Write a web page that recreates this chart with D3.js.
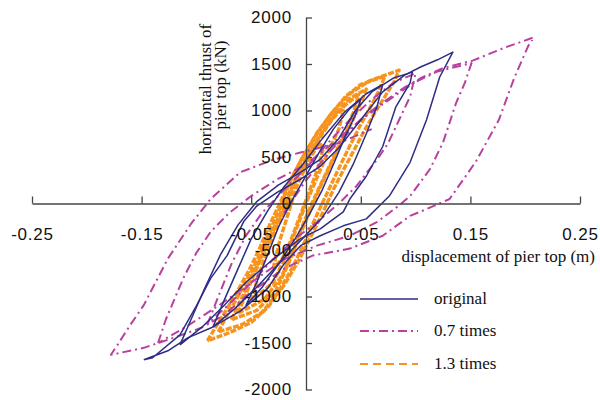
<!DOCTYPE html>
<html><head><meta charset="utf-8">
<script src="https://cdn.jsdelivr.net/npm/d3@7"></script>
<style>body{margin:0;background:#fff}svg{display:block}</style>
</head><body>
<svg id="c" width="600" height="400"></svg>
<script>
// ---- data: displacement (m), horizontal thrust (kN) ----
const xTicks = [-0.25, -0.15, -0.05, 0.05, 0.15, 0.25];
const yTicks = [-2000, -1500, -1000, -500, 0, 500, 1000, 1500, 2000];
const seriesNames = ["original", "0.7 times", "1.3 times"];

const originalLoop1 = [[-0.055,-1100],[-0.045,-850],[-0.035,-550],[-0.025,-250],[-0.012,50],[0.0,300],[0.012,550],[0.025,800],[0.04,1020],[0.05,1120],[0.045,950],[0.035,700],[0.025,420],[0.015,150],[0.003,-120],[-0.01,-380],[-0.025,-650],[-0.04,-900],[-0.055,-1100]];
const originalLoop2 = [[-0.085,-1330],[-0.075,-1050],[-0.062,-700],[-0.05,-380],[-0.035,-80],[-0.02,180],[-0.003,420],[0.015,700],[0.035,980],[0.055,1180],[0.07,1280],[0.065,1050],[0.055,750],[0.043,420],[0.03,120],[0.015,-150],[-0.005,-400],[-0.025,-650],[-0.045,-900],[-0.065,-1130],[-0.085,-1330]];
const originalLoop3 = [[-0.115,-1520],[-0.105,-1250],[-0.092,-900],[-0.078,-550],[-0.062,-230],[-0.045,20],[-0.025,200],[-0.005,335],[0.013,475],[0.03,700],[0.045,1000],[0.06,1200],[0.08,1350],[0.097,1413],[0.095,1296],[0.082,1040],[0.07,613],[0.055,293],[0.04,48],[0.034,-90],[0.013,-272],[-0.005,-378],[-0.03,-600],[-0.055,-850],[-0.075,-1100],[-0.095,-1330],[-0.115,-1520]];
const originalLoop4 = [[-0.148,-1680],[-0.14,-1659],[-0.115,-1413],[-0.1,-1100],[-0.087,-805],[-0.072,-560],[-0.057,-197],[-0.045,-27],[-0.026,123],[-0.005,261],[0.013,400],[0.03,600],[0.05,900],[0.07,1200],[0.09,1380],[0.105,1470],[0.12,1545],[0.134,1627],[0.122,1360],[0.11,900],[0.095,443],[0.076,80],[0.055,-165],[0.034,-240],[0.013,-347],[-0.005,-453],[-0.02,-650],[-0.035,-912],[-0.06,-1157],[-0.087,-1339],[-0.108,-1445],[-0.126,-1584],[-0.148,-1680]];

const times07Loop1 = [[-0.09,-1300],[-0.08,-1000],[-0.068,-650],[-0.055,-350],[-0.04,-100],[-0.02,150],[0.0,380],[0.02,650],[0.04,900],[0.06,1120],[0.08,1300],[0.1,1400],[0.095,1150],[0.085,900],[0.075,650],[0.065,475],[0.046,187],[0.03,0],[0.01,-200],[-0.01,-380],[-0.03,-600],[-0.05,-850],[-0.07,-1080],[-0.09,-1300]];
const times07Loop2 = [[-0.135,-1500],[-0.128,-1250],[-0.112,-805],[-0.1,-530],[-0.087,-304],[-0.07,-100],[-0.05,80],[-0.026,261],[0.0,420],[0.03,700],[0.06,1000],[0.09,1250],[0.12,1420],[0.151,1510],[0.145,1300],[0.137,1083],[0.125,655],[0.113,368],[0.095,80],[0.085,-20],[0.065,-197],[0.04,-347],[0.01,-453],[-0.02,-600],[-0.05,-850],[-0.08,-1100],[-0.11,-1330],[-0.135,-1500]];
const times07Loop3 = [[-0.02,-100],[0.0,250],[0.025,600],[0.05,900],[0.08,1150],[0.105,1350],[0.125,1456],[0.152,1536],[0.18,1670],[0.208,1787],[0.203,1700],[0.19,1350],[0.176,900],[0.155,450],[0.131,48],[0.11,-60],[0.095,-133],[0.07,-347],[0.04,-485],[0.006,-560],[-0.02,-700],[-0.05,-950],[-0.075,-1200],[-0.096,-1339],[-0.121,-1445],[-0.148,-1552],[-0.178,-1627],[-0.172,-1520],[-0.16,-1300],[-0.148,-1093],[-0.126,-592],[-0.105,-220],[-0.087,48],[-0.06,336],[-0.03,470],[-0.005,549],[0.03,650],[0.06,800]];

const times13Loop1 = [[-0.03,-700],[-0.024,-400],[-0.016,-100],[-0.008,200],[0.002,450],[0.012,650],[0.016,600],[0.01,350],[0.002,100],[-0.006,-150],[-0.014,-400],[-0.022,-600],[-0.03,-700]];
const times13Loop2 = [[-0.05,-1050],[-0.044,-800],[-0.035,-500],[-0.026,-250],[-0.017,0],[-0.007,300],[0.004,550],[0.016,800],[0.028,980],[0.034,1000],[0.03,800],[0.02,550],[0.009,250],[0.0,0],[-0.008,-250],[-0.018,-550],[-0.03,-850],[-0.05,-1050]];
const times13Loop3 = [[-0.068,-1250],[-0.06,-1050],[-0.05,-800],[-0.04,-550],[-0.03,-300],[-0.02,-50],[-0.01,250],[0.002,500],[0.015,750],[0.028,980],[0.04,1130],[0.055,1230],[0.05,1080],[0.042,880],[0.032,650],[0.022,400],[0.012,150],[0.003,-100],[-0.006,-350],[-0.016,-650],[-0.028,-950],[-0.045,-1150],[-0.068,-1250]];
const times13Loop4 = [[-0.08,-1380],[-0.072,-1200],[-0.062,-1000],[-0.052,-780],[-0.042,-550],[-0.033,-300],[-0.024,-50],[-0.014,250],[-0.003,500],[0.01,750],[0.022,950],[0.036,1150],[0.05,1280],[0.072,1370],[0.066,1200],[0.058,1020],[0.05,850],[0.04,620],[0.03,380],[0.02,130],[0.01,-120],[0.0,-380],[-0.012,-680],[-0.025,-950],[-0.04,-1170],[-0.058,-1300],[-0.08,-1380]];
const times13Loop5 = [[-0.09,-1477],[-0.082,-1320],[-0.072,-1130],[-0.062,-930],[-0.052,-720],[-0.043,-500],[-0.034,-250],[-0.024,0],[-0.013,280],[-0.002,520],[0.01,760],[0.024,980],[0.04,1180],[0.058,1320],[0.085,1434],[0.08,1300],[0.072,1150],[0.064,1000],[0.054,800],[0.045,600],[0.035,380],[0.025,150],[0.016,-80],[0.006,-320],[-0.006,-600],[-0.02,-880],[-0.035,-1120],[-0.05,-1280],[-0.07,-1390],[-0.09,-1477]];
const times13Loop6 = [[-0.062,-1180],[-0.054,-950],[-0.045,-700],[-0.036,-450],[-0.027,-200],[-0.016,100],[-0.004,400],[0.008,650],[0.022,880],[0.036,1060],[0.048,1170],[0.044,1000],[0.036,780],[0.026,520],[0.016,270],[0.006,20],[-0.003,-230],[-0.012,-500],[-0.022,-780],[-0.038,-1030],[-0.062,-1180]];

const originalLoops = [originalLoop1, originalLoop2, originalLoop3, originalLoop4];
const times07Loops = [times07Loop1, times07Loop2, times07Loop3];
const times13Loops = [times13Loop1, times13Loop2, times13Loop3, times13Loop4, times13Loop5, times13Loop6];

// ---- drawing ----
const svg = d3.select("#c");
const x = d3.scaleLinear().domain([-0.25, 0.25]).range([32, 580]);
const y = d3.scaleLinear().domain([-2000, 2000]).range([389.5, 17.5]);
const line = d3.line().x(d => x(d[0])).y(d => y(d[1]));

const styles = [
  {color: "#2e2d86", width: 1.5, dash: null},
  {color: "#b8409f", width: 2, dash: "9,4,2,4"},
  {color: "#f7941d", width: 3.4, dash: "6,1.5"}
];
const allLoops = [originalLoops, times07Loops, times13Loops];

const plot = svg.append("g");
[2, 1, 0].forEach(i => {
  const s = styles[i];
  plot.append("g").selectAll("path").data(allLoops[i]).join("path")
    .attr("d", line)
    .attr("fill", "none")
    .attr("stroke", s.color)
    .attr("stroke-width", s.width)
    .attr("stroke-dasharray", s.dash)
    .attr("stroke-linejoin", "round");
});

// axes
const xAxis = svg.append("g").attr("transform", `translate(0,${y(0)})`)
  .call(d3.axisBottom(x).tickValues(xTicks).tickSizeInner(-7).tickSizeOuter(0).tickPadding(24));
const yAxis = svg.append("g").attr("transform", `translate(${x(0)},0)`)
  .call(d3.axisLeft(y).tickValues(yTicks).tickSizeInner(-6).tickSizeOuter(0).tickPadding(14));
[xAxis, yAxis].forEach(a => {
  a.select(".domain").attr("stroke", "#444").attr("stroke-width", 1.3);
  a.selectAll(".tick line").attr("stroke", "#444").attr("stroke-width", 1.3);
  a.selectAll("text").attr("font-family", "Liberation Sans, Arial, sans-serif")
    .attr("font-size", 17).attr("letter-spacing", 0.8).attr("fill", "#111");
});
xAxis.selectAll(".tick text").text(d => d < 0 ? "-" + d3.format(".2f")(-d) : d3.format(".2f")(d));
yAxis.selectAll(".tick text").text(d => d < 0 ? "-" + (-d) : d);

// axis titles
const serif = "Liberation Serif, Times New Roman, serif";
svg.append("text").attr("x", 595).attr("y", 262).attr("text-anchor", "end")
  .attr("font-family", serif).attr("font-size", 17).attr("fill", "#111")
  .text("displacement of pier top (m)");
const yt = svg.append("g").attr("transform", "translate(0,89) rotate(-90)");
yt.append("text").attr("x", 0).attr("y", 211).attr("text-anchor", "middle")
  .attr("font-family", serif).attr("font-size", 17).attr("fill", "#111")
  .text("horizontal thrust of");
yt.append("text").attr("x", 4).attr("y", 226).attr("text-anchor", "middle")
  .attr("font-family", serif).attr("font-size", 17).attr("fill", "#111")
  .text("pier top (kN)");

// legend
const legendY = [299, 331, 364];
const lg = svg.append("g");
seriesNames.forEach((name, i) => {
  const s = styles[i];
  lg.append("line").attr("x1", 360).attr("x2", 418).attr("y1", legendY[i]).attr("y2", legendY[i])
    .attr("stroke", s.color).attr("stroke-width", i === 0 ? 1.5 : 2)
    .attr("stroke-dasharray", i === 1 ? "9,4,2,4" : (i === 2 ? "8,5" : null));
  lg.append("text").attr("x", 434).attr("y", legendY[i] + 5)
    .attr("font-family", serif).attr("font-size", 17).attr("fill", "#111").text(name);
});
</script>
</body></html>
